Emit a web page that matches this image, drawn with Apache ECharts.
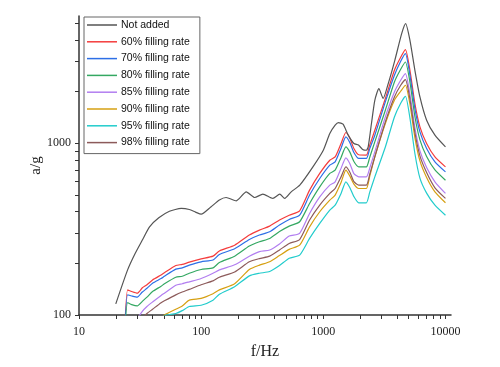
<!DOCTYPE html>
<html>
<head>
<meta charset="utf-8">
<script src="https://cdn.jsdelivr.net/npm/echarts@6/dist/echarts.min.js"></script>
<style>html,body{margin:0;padding:0;background:#fff}#chart{width:500px;height:367px}</style>
</head>
<body>
<div id="chart"></div>
<script>
// frequencies (Hz) for the "Not added" curve
const freqBase = [20, 25, 28.8, 33, 37.8, 45, 55, 68.7, 80, 90, 100, 120, 141, 160, 194, 234, 274, 320, 386, 440, 483, 546, 642, 822, 1000, 1130, 1250, 1330, 1450, 1600, 1780, 1940, 2100, 2250, 2330, 2480, 2640, 2850, 3090, 3400, 3850, 4380, 4720, 5120, 5620, 6180, 7010, 8200, 10000];
const notAdded = [116, 183, 228, 273, 326, 368, 402, 417, 411, 397, 386, 425, 467, 483, 462, 521, 483, 505, 477, 505, 477, 521, 570, 728, 910, 1138, 1273, 1319, 1290, 1114, 996, 975, 920, 910, 951, 1306, 1778, 2080, 1820, 2224, 3038, 4342, 4965, 3970, 2657, 1858, 1361, 1113, 951];

// frequencies (Hz) shared by the filled curves
const freq = [23.2, 25, 27, 30, 33, 36, 40, 47, 50, 62, 70, 80, 100, 125, 141, 188, 248, 300, 364, 438, 526, 640, 772, 935, 1130, 1250, 1400, 1530, 1650, 1780, 1950, 2250, 2400, 2640, 3220, 3820, 4300, 4700, 5120, 5620, 6180, 7010, 8200, 10000];
const fill60 = [60, 140, 137, 134, 144, 150, 160, 171, 176, 194, 197, 203, 212, 220, 236, 255, 292, 312, 329, 357, 381, 404, 533, 667, 796, 832, 1000, 1154, 1069, 931, 856, 852, 974, 1190, 1819, 2657, 3162, 3506, 2657, 1702, 1244, 996, 832, 728];
const fill70 = [60, 131, 129, 127, 136, 143, 153, 163, 168, 185, 188, 195, 204, 209, 225, 243, 275, 292, 305, 334, 360, 381, 499, 623, 745, 779, 939, 1088, 1008, 883, 815, 815, 930, 1113, 1739, 2485, 2997, 3323, 2485, 1591, 1163, 932, 779, 681];
const fill80 = [60, 118, 115, 113, 120, 127, 137, 147, 152, 166, 168, 175, 184, 188, 202, 220, 252, 267, 279, 306, 329, 349, 446, 557, 667, 697, 829, 951, 887, 783, 728, 728, 829, 1018, 1556, 2272, 2693, 2970, 2263, 1430, 1045, 837, 699, 609];
const fill85 = [null, null, null, 95, 105, 112, 119, 130, 134, 149, 152, 156, 163, 175, 183, 196, 220, 234, 239, 259, 288, 299, 390, 487, 570, 596, 716, 822, 760, 665, 637, 637, 716, 890, 1422, 1988, 2324, 2542, 1927, 1234, 902, 722, 596, 510];
const fill90 = [null, null, null, null, null, null, null, 95, 100, 108, 113, 122, 125, 133, 140, 152, 184, 195, 204, 222, 241, 255, 326, 399, 466, 499, 593, 697, 643, 578, 545, 545, 643, 832, 1302, 1778, 2006, 2174, 1686, 1079, 789, 632, 521, 450];
const fill95 = [null, null, null, null, null, null, null, 95, 99, 102, 106, 112, 114, 122, 132, 146, 169, 175, 179, 194, 214, 223, 279, 341, 408, 436, 512, 596, 551, 489, 450, 450, 519, 637, 951, 1422, 1709, 1876, 1398, 871, 626, 512, 436, 381];
const fill98 = [null, null, null, null, 95, 102, 108, 118, 121, 131, 136, 141, 150, 158, 166, 178, 204, 213, 220, 239, 261, 275, 357, 436, 510, 545, 639, 728, 678, 597, 570, 570, 660, 832, 1330, 1858, 2174, 2346, 1802, 1154, 844, 675, 550, 477];

const names = ['Not added', '60% filling rate', '70% filling rate', '80% filling rate', '85% filling rate', '90% filling rate', '95% filling rate', '98% filling rate'];
const colors = ['#555555', '#f43c3c', '#2d6fe6', '#34a862', '#b27ef0', '#d6a012', '#22cccc', '#8c5a5a'];

const xTicks = [10, 20, 30, 40, 50, 60, 70, 80, 90, 100, 200, 300, 400, 500, 600, 700, 800, 900, 1000, 2000, 3000, 4000, 5000, 6000, 7000, 8000, 9000, 10000];
const yTicks = [100, 200, 300, 400, 500, 600, 700, 800, 900, 1000, 2000, 3000, 4000, 5000];

const X_MAX = 11100, Y_MAX = 5500;

function pairs(xs, ys) {
  const out = [];
  xs.forEach((x, i) => { if (ys[i] != null) out.push([x, ys[i]]); });
  return out;
}

const curves = [
  pairs(freqBase, notAdded),
  pairs(freq, fill60), pairs(freq, fill70), pairs(freq, fill80), pairs(freq, fill85),
  pairs(freq, fill90), pairs(freq, fill95), pairs(freq, fill98)
];

const axisLine = { show: true, onZero: false, lineStyle: { color: '#333', width: 1.5 } };
const tickStyle = { color: '#333', width: 1 };
const serif = 'Liberation Serif, DejaVu Serif, serif';
// labels only on whole decades (axis runs in log10 units)
const labelFmt = v => (Math.abs(v - Math.round(v)) < 1e-6 ? String(Math.round(Math.pow(10, v))) : '');

// hidden log axes carry the data; value axes in log10 units draw ticks and labels
const chart = echarts.init(document.getElementById('chart'));
chart.setOption({
  animation: false,
  backgroundColor: '#fff',
  grid: { left: 79, right: 49, top: 16, bottom: 52 },
  legend: {
    orient: 'vertical',
    left: 84, top: 17,
    data: names,
    icon: 'rect',
    itemWidth: 30, itemHeight: 1.5,
    itemGap: 4.8,
    padding: [2, 10, 5, 3],
    borderColor: '#666', borderWidth: 1,
    backgroundColor: '#fff',
    textStyle: { fontFamily: 'Liberation Sans, Arial, sans-serif', fontSize: 10.5, color: '#111', lineHeight: 12, padding: [0, 0, 0, -1] }
  },
  xAxis: [
    { type: 'log', min: 10, max: X_MAX, show: false },
    {
      type: 'value', min: 1, max: Math.log10(X_MAX), interval: 0.5, position: 'bottom',
      axisLine: axisLine,
      axisTick: { show: true, customValues: xTicks.map(Math.log10), length: 4, lineStyle: tickStyle },
      axisLabel: { formatter: labelFmt, showMaxLabel: false, fontFamily: serif, fontSize: 12, color: '#222', margin: 11 },
      splitLine: { show: false },
      name: 'f/Hz', nameLocation: 'middle', nameGap: 29, nameMoveOverlap: false,
      nameTextStyle: { fontFamily: serif, fontSize: 16, color: '#222' }
    }
  ],
  yAxis: [
    { type: 'log', min: 100, max: Y_MAX, show: false },
    {
      type: 'value', min: 2, max: Math.log10(Y_MAX), interval: 0.5, position: 'left',
      axisLine: axisLine,
      axisTick: { show: true, customValues: yTicks.map(Math.log10), length: 4, lineStyle: tickStyle },
      axisLabel: { formatter: labelFmt, showMaxLabel: false, fontFamily: serif, fontSize: 12, color: '#222', margin: 8 },
      splitLine: { show: false },
      name: 'a/g', nameLocation: 'middle', nameGap: 35, nameMoveOverlap: false,
      nameTextStyle: { fontFamily: serif, fontSize: 15, color: '#222' }
    }
  ],
  series: names.map((name, i) => ({
    name: name,
    type: 'line',
    xAxisIndex: 0, yAxisIndex: 0,
    data: curves[i],
    symbol: 'none',
    smooth: 0.2,
    clip: true,
    color: colors[i],
    lineStyle: { width: 1.2, color: colors[i] },
    z: i === 0 ? 3 : 2
  }))
});
</script>
</body>
</html>
